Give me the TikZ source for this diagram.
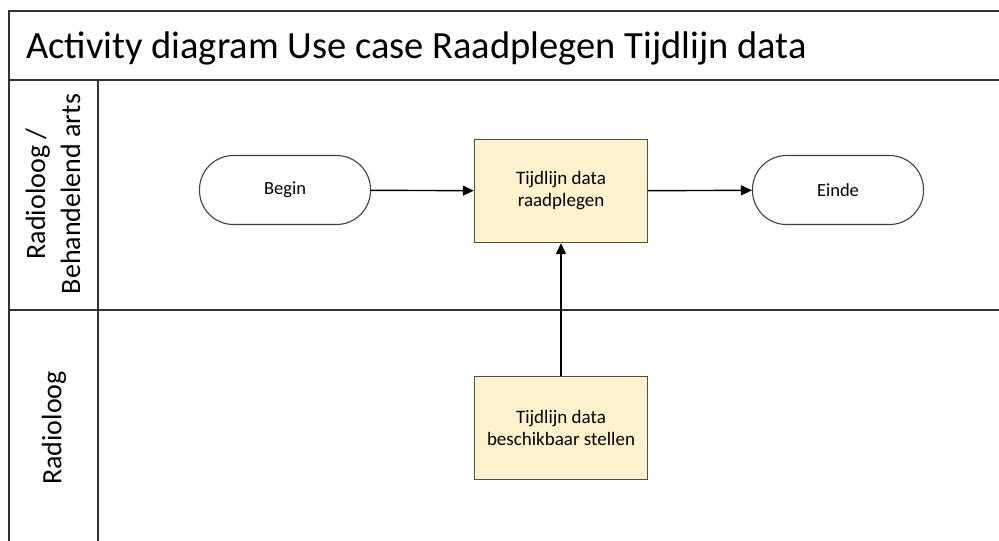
\documentclass[tikz,border=0pt]{standalone}
\usepackage{fontspec}
\setmainfont{Carlito}
\usepackage{xcolor}
\usetikzlibrary{arrows.meta}
\definecolor{actfill}{RGB}{255, 242, 204}
\definecolor{framegray}{RGB}{50, 50, 50}

\tikzset{
  lane/.style={draw=framegray, line width=1.8pt},
  terminal/.style={draw=black!75, line width=1.1pt, fill=white, rectangle,
    rounded corners=34pt, minimum width=171pt, minimum height=69pt,
    font=\fontsize{18.5}{22}\selectfont},
  activity/.style={draw=black!70, line width=1.4pt, fill=actfill,
    minimum width=173pt, minimum height=103pt, align=center,
    font=\fontsize{19}{22}\selectfont},
  lanelabel/.style={rotate=90, align=center, inner sep=0pt,
    font=\fontsize{28}{35}\selectfont},
  flow/.style={draw=black, line width=1.4pt, -{Triangle[length=11pt,width=10pt]}},
}

\begin{document}
\begin{tikzpicture}[x=1pt, y=-1pt]
  \useasboundingbox (0,0) rectangle (999,541);

  % swimlane frame
  \draw[lane] (999,11) -- (9,11) -- (9,541);
  \draw[lane] (9,80) -- (999,80);
  \draw[lane] (9,310) -- (999,310);
  \draw[lane] (98,80) -- (98,541);

  \node[anchor=base west, inner sep=0pt, font=\fontsize{38.5}{44}\selectfont]
    (title) at (26,58) {Activity diagram Use case Raadplegen Tijdlijn data};

  \node[lanelabel] (lane1) at (53,194) {Radioloog /\\Behandelend arts};
  \node[lanelabel] (lane2) at (54,428) {Radioloog};

  % activities
  \node[terminal] (begin) at (285,190) {Begin};
  \node[activity] (raadplegen) at (561,191) {Tijdlijn data\\raadplegen};
  \node[terminal] (einde) at (838,190) {Einde};
  \node[activity] (beschikbaar) at (561,428) {Tijdlijn data\\beschikbaar stellen};

  \draw[flow] (begin) -- (raadplegen);
  \draw[flow] (raadplegen) -- (einde);
  \draw[flow] (beschikbaar) -- (raadplegen);

\end{tikzpicture}
\end{document}
